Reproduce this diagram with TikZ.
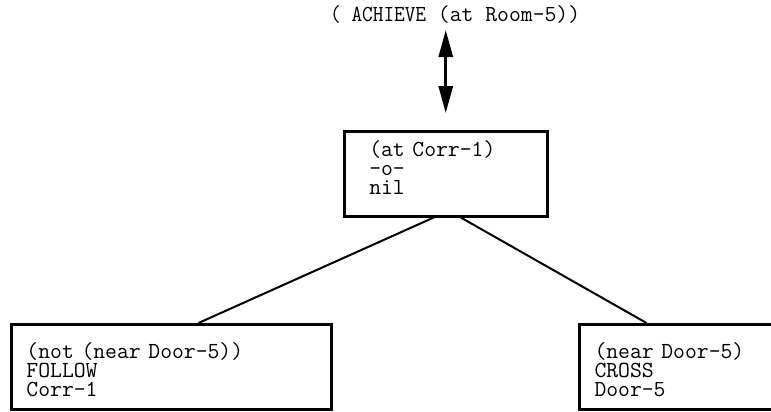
\documentclass[tikz,border=0pt]{standalone}
\usepackage{fontspec}
\usepackage{graphicx}
\usetikzlibrary{arrows.meta}
\tikzset{
  plan/.style={font=\ttfamily\fontsize{23}{19}\selectfont},
  goalbox/.style={plan, draw, line width=2.5pt, align=left, anchor=north west, inner ysep=0pt},
  leafbox/.style={goalbox, line width=3pt, inner xsep=15pt, text height=34pt, text depth=51pt},
  link/.style={line width=2pt},
  twoway/.style={line width=3pt, {Triangle[length=27pt,width=14pt]}-{Triangle[length=27pt,width=14pt]}}
}
\begin{document}
\begin{tikzpicture}[x=1pt,y=-1pt]
\clip (0,0) rectangle (771,412);
\node (goal) at (330,22) [plan, anchor=base west, inner sep=0pt] {\scalebox{0.9}[1]{( ACHIEVE} (at Room-5))};
\node (mid) at (343,130) [goalbox, inner xsep=25pt, text width=153pt, text height=25pt, text depth=60pt] {(at Corr-1)\\-o-\\nil};
\node (left) at (10,323) [leafbox, text width=290pt] {(not (near Door-5))\\FOLLOW\\Corr-1};
\node (right) at (578,323) [leafbox, text width=182pt] {(near Door-5)\\CROSS\\Door-5};
\draw[twoway, shorten <=17pt, shorten >=6pt] (mid.north) -- (mid.north |- goal.south);
\draw[link] ([xshift=-12pt]mid.south) -- ([xshift=27pt]left.north);
\draw[link] ([xshift=15pt]mid.south) -- ([xshift=-39pt]right.north);
\end{tikzpicture}
\end{document}
